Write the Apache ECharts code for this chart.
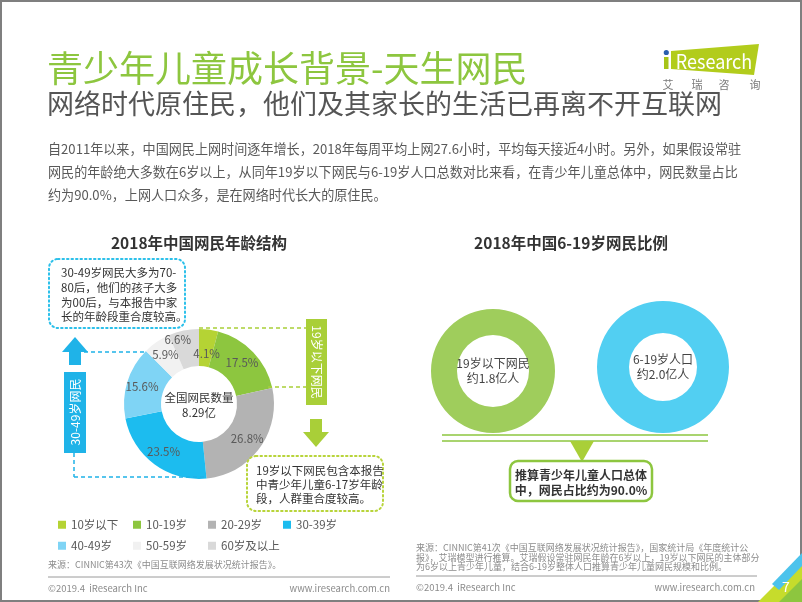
<!DOCTYPE html>
<html><head><meta charset="utf-8">
<script src="https://cdn.jsdelivr.net/npm/echarts/dist/echarts.min.js"></script>
<style>html,body{margin:0;padding:0;background:#fff}#c{width:802px;height:602px}</style>
</head><body><div id="c"></div>
<script>
// ---- data ----
const ageGroups = ['10岁以下','10-19岁','20-29岁','30-39岁','40-49岁','50-59岁','60岁及以上'];
const ageShares = [4.1, 17.5, 26.8, 23.5, 15.6, 5.9, 6.6];
const ageColors = ['#b5d334','#8dc63f','#b3b3b3','#1cbcef','#7fd4f5','#f1f1f1','#d9d9d9'];
const totalNetizens = 8.29;
const youthNames = ['19岁以下网民','6-19岁人口'];
const youthValues = [1.8, 2.0];
const youthColors = ['#9fcd5c','#52cff2'];
const youthShareText = '90.0%';

const F = '"Noto Sans CJK SC","Noto Sans",sans-serif';
const chart = echarts.init(document.getElementById('c'), null, {renderer:'canvas'});

function txt(text, x, y, size, color, opt) {
  opt = opt || {};
  return {type:'text', x:x, y:y, rotation:opt.rotation||0, scaleX:opt.sx||1, z:opt.z||10, silent:true,
    style:{text:text, fontSize:size, fontFamily:F, fontWeight:opt.weight||'normal', fill:color,
      align:opt.align||'left', verticalAlign:'middle', lineHeight:opt.lh}};
}
function line(x1,y1,x2,y2,color,w,dash){
  return {type:'line', z:5, silent:true, shape:{x1,y1,x2,y2}, style:{stroke:color, lineWidth:w, lineDash:dash||null}};
}
function poly(points, color, z){ return {type:'polygon', z:z||5, silent:true, shape:{points}, style:{fill:color}}; }
function rect(x,y,w,h,style,r,z){ return {type:'rect', z:z||5, silent:true, shape:{x,y,width:w,height:h,r:r||0}, style}; }

const blue = '#1fb3e8', lime = '#a9cf38', green = '#8dc63f', grayT = '#595959', srcC = '#8c8c8c';

const legendX = [58, 133, 208, 283];
const legends = ageGroups.map((n,i)=>({
  data:[n], left: legendX[i%4], top: i<4 ? 519 : 540, padding:0,
  icon:'rect', itemWidth:8, itemHeight:8, selectedMode:false,
  textStyle:{fontSize:11.5, color:grayT, fontFamily:F}
}));

const elements = [
  // page border
  rect(1,1,800,600,{fill:'none', stroke:'#7f7f7f', lineWidth:2},0,1),
  // title & subtitle
  txt('青少年儿童成长背景-天生网民', 47, 68, 36, '#8dc63f'),
  txt('网络时代原住民，他们及其家长的生活已再离不开互联网', 47, 104, 27, '#555555'),
  txt('自2011年以来，中国网民上网时间逐年增长，2018年每周平均上网27.6小时，平均每天接近4小时。另外，如果假设常驻', 48, 149, 13.1, grayT),
  txt('网民的年龄绝大多数在6岁以上，从同年19岁以下网民与6-19岁人口总数对比来看，在青少年儿童总体中，网民数量占比', 48, 172, 13.1, grayT),
  txt('约为' + youthShareText + '，上网人口众多，是在网络时代长大的原住民。', 48, 195, 13.1, grayT),
  // logo
  poly([[671,51],[759,44],[754,75],[671,69]], '#b2cc1c', 6),
  rect(664,57,4.5,12,{fill:'#a7c419'},0,7),
  {type:'circle', z:7, silent:true, shape:{cx:666.3, cy:52.5, r:2.6}, style:{fill:'#2a5fae'}},
  txt('Research', 714, 61, 20, '#ffffff', {align:'center', z:8, sx:0.9}),
  txt('艾', 668, 85, 11, '#7a7a7a', {align:'center'}),
  txt('瑞', 697, 85, 11, '#7a7a7a', {align:'center'}),
  txt('咨', 724, 85, 11, '#7a7a7a', {align:'center'}),
  txt('询', 755, 85, 11, '#7a7a7a', {align:'center'}),
  // chart titles
  txt('2018年中国网民年龄结构', 199, 243, 15.5, '#333333', {align:'center', weight:'bold'}),
  txt('2018年中国6-19岁网民比例', 571, 243, 15.5, '#333333', {align:'center', weight:'bold'}),
  // left callout 1 (blue dotted)
  rect(49,259,136,69,{fill:'none', stroke:'#2cc0ea', lineWidth:2, lineDash:[1.5,3], lineCap:'round'},9,5),
  txt('30-49岁网民大多为70-', 61, 273, 11.5, '#333333'),
  txt('80后，他们的孩子大多', 61, 288, 11.5, '#333333'),
  txt('为00后，与本报告中家', 61, 303, 11.5, '#333333'),
  txt('长的年龄段重合度较高。', 61, 317, 11.5, '#333333'),
  // blue arrow & box
  poly([[62,352],[75,337],[88,352]], blue),
  rect(69,351,12,14,{fill:blue}),
  rect(64,372,22,81,{fill:blue}),
  txt('30-49岁网民', 75, 412, 12, '#ffffff', {align:'center', rotation:Math.PI/2}),
  line(84,352,146,352,blue,1.5,[4,3]),
  line(74,453,74,477,blue,1.5,[4,3]),
  line(74,477,207,477,blue,1.5,[4,3]),
  // green box & arrow
  rect(306,319,21,86,{fill:lime}),
  txt('19岁以下网民', 316.5, 362, 12, '#ffffff', {align:'center', rotation:-Math.PI/2}),
  line(199,328,306,328,lime,1.5,[4,3]),
  line(268,387,306,387,lime,1.5,[4,3]),
  rect(310,419,12,14,{fill:lime}),
  poly([[303,432],[329,432],[316,447]], lime),
  // left callout 2
  rect(247,456,136,55,{fill:'none', stroke:'#b8d43a', lineWidth:2, lineDash:[1.5,3], lineCap:'round'},9,5),
  txt('19岁以下网民包含本报告', 256, 471, 11.5, '#333333'),
  txt('中青少年儿童6-17岁年龄', 256, 485, 11.5, '#333333'),
  txt('段，人群重合度较高。', 256, 499, 11.5, '#333333'),
  // donut center
  txt('全国网民数量\n' + totalNetizens + '亿', 199, 405, 11.5, '#333333', {align:'center', lh:15}),
  // left source / footer
  txt('来源：CINNIC第43次《中国互联网络发展状况统计报告》。', 48, 565, 9, srcC),
  line(48,577,390,577,'#9a9a9a',1),
  txt('©2019.4  iResearch Inc', 48, 588, 9.5, srcC),
  txt('www.iresearch.com.cn', 390, 588, 9.5, srcC, {align:'right'}),
  // right connector
  line(442,435,708,435,green,1.5),
  line(442,441,708,441,green,1.5),
  poly([[570,441],[594,441],[582,462]], lime),
  rect(510,461,142,40,{fill:'#ffffff', stroke:green, lineWidth:2.5},8,6),
  txt('推算青少年儿童人口总体', 581, 475, 12, '#333333', {align:'center', weight:'bold'}),
  txt('中，网民占比约为' + youthShareText, 581, 490, 12, '#333333', {align:'center', weight:'bold'}),
  // right source / footer
  txt('来源：CINNIC第41次《中国互联网络发展状况统计报告》，国家统计局《年度统计公', 416, 548, 9, srcC),
  txt('报》，艾瑞模型进行推算。艾瑞假设常驻网民年龄在6岁以上，19岁以下网民的主体部分', 416, 558, 9, srcC),
  txt('为6岁以上青少年儿童，结合6-19岁整体人口推算青少年儿童网民规模和比例。', 416, 567, 9, srcC),
  line(416,576,757,576,'#9a9a9a',1),
  txt('©2019.4  iResearch Inc', 416, 587, 9.5, srcC),
  txt('www.iresearch.com.cn', 755, 587, 9.5, srcC, {align:'right'}),
  // corner decoration
  poly([[758,602],[802,558],[802,602]], '#c6dc2c', 3),
  poly([[772,584],[802,553],[802,566],[779,590]], '#4cc3ec', 4),
  poly([[779,602],[802,579],[802,602]], '#8dc63f', 4),
  txt('7', 786, 587, 14, '#ffffff', {align:'center', z:12})
];

const option = {
  backgroundColor:'#ffffff',
  animation:false,
  legend: legends,
  series: [
    {
      type:'pie', center:[199,404], radius:[38,75], startAngle:90, clockwise:true,
      avoidLabelOverlap:false, silent:true, padAngle:0,
      label:{show:true, position:'inside', formatter:p=>p.value.toFixed(1)+'%', color:grayT, fontSize:11.5, fontFamily:F},
      labelLine:{show:false},
      itemStyle:{borderWidth:0},
      emphasis:{disabled:true},
      labelLayout: p => p.dataIndex===0 ? {dy:9} : (p.dataIndex===6 ? {dx:-9, dy:-6} : {}),
      data: ageGroups.map((n,i)=>({name:n, value:ageShares[i], itemStyle:{color:ageColors[i]}}))
    },
    {
      type:'pie', center:[493,371], radius:[36,62], silent:true, startAngle:90,
      label:{show:true, position:'center', formatter:p=>p.name+'\n约'+p.value.toFixed(1)+'亿人', color:'#444444', fontSize:12, lineHeight:15, fontFamily:F},
      labelLine:{show:false}, emphasis:{disabled:true},
      data:[{name:youthNames[0], value:youthValues[0], itemStyle:{color:youthColors[0]}}]
    },
    {
      type:'pie', center:[663,367], radius:[34,66], silent:true, startAngle:90,
      label:{show:true, position:'center', formatter:p=>p.name+'\n约'+p.value.toFixed(1)+'亿人', color:'#444444', fontSize:12, lineHeight:15, fontFamily:F},
      labelLine:{show:false}, emphasis:{disabled:true},
      data:[{name:youthNames[1], value:youthValues[1], itemStyle:{color:youthColors[1]}}]
    }
  ],
  graphic:{elements: elements}
};
chart.setOption(option);
</script></body></html>
